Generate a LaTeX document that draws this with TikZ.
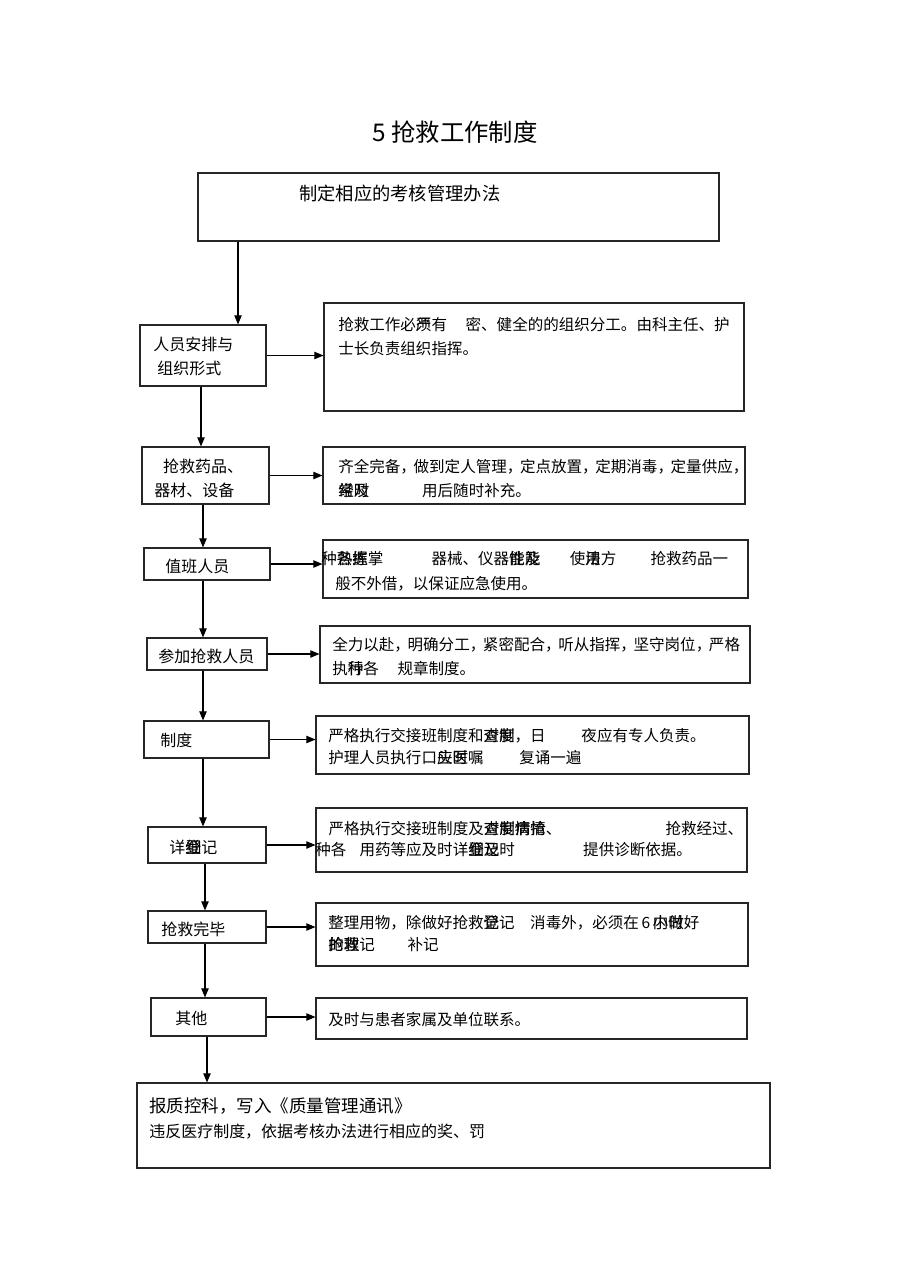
\documentclass[tikz,border=0pt]{standalone}
\usepackage{fontspec}
\setmainfont{Noto Sans CJK SC}
\usetikzlibrary{fit,arrows.meta}
\newcommand\ov[2]{\rlap{#1}#2}

\begin{document}
\begin{tikzpicture}[x=0.2308mm,y=-0.2308mm,
  box/.style={draw=black!85,line width=0.7pt,inner sep=0pt},
  txt/.style={anchor=north west,inner sep=0pt,align=left,font=\fontsize{10.2}{15.7}\selectfont},
  lab/.style={anchor=north west,inner sep=0pt,align=left,font=\fontsize{10.5}{15.7}\selectfont},
  arr/.style={-{Triangle[length=2.1mm,width=1.7mm]},line width=0.7pt}]
  \useasboundingbox (0,0) rectangle (910,1287);
  \node[font=\fontsize{16}{19}\selectfont] (title) at (455,132) {5 抢救工作制度};
  \node[box,fit={(198,173) (719,241)}] (top) {};
  \node[anchor=north west,inner sep=0pt,font=\fontsize{12}{14}\selectfont] (topt) at (299,185) {制定相应的考核管理办法};
  % left column
  \node[box,fit={(140,325) (266,386)}]  (l1) {};
  \node[box,fit={(142,447) (269,504)}]  (l2) {};
  \node[box,fit={(144,548) (270,580)}]  (l3) {};
  \node[box,fit={(147,638) (267,670)}]  (l4) {};
  \node[box,fit={(144,721) (269,758)}]  (l5) {};
  \node[box,fit={(148,827) (266,863)}]  (l6) {};
  \node[box,fit={(148,911) (266,943)}]  (l7) {};
  \node[box,fit={(151,998) (266,1036)}] (l8) {};
  \node[lab] (l1t) at (153,337) {人员安排与\\\hspace*{0.25em}组织形式};
  \node[lab] (l2t) at (154,459) {\hspace*{0.55em}抢救药品、\\器材、设备};
  \node[lab] (l3t) at (165,559) {值班人员};
  \node[lab] (l4t) at (158,649) {参加抢救人员};
  \node[lab] (l5t) at (160,733) {制度};
  \node[lab] (l6t) at (169,840) {详\ov{细}{登}记};
  \node[lab] (l7t) at (161,922) {抢救完毕};
  \node[lab] (l8t) at (175,1011) {其他};
  % right column
  \node[box,fit={(324,303) (744,411)}]  (r1) {};
  \node[box,fit={(323,447) (745,504)}]  (r2) {};
  \node[box,fit={(323,540) (748,598)}]  (r3) {};
  \node[box,fit={(320,626) (750,683)}]  (r4) {};
  \node[box,fit={(316,716) (749,774)}]  (r5) {};
  \node[box,fit={(316,808) (747,872)}]  (r6) {};
  \node[box,fit={(316,903) (748,966)}]  (r7) {};
  \node[box,fit={(316,998) (747,1039)}] (r8) {};
  \node[txt] (r1t) at (338,317) {抢救工作必\ov{须}{严}有\hspace{1.2em}密、健全的的组织分工。由科主任、护\\士长负责组织指挥。};
  \node[txt] (r2t) at (338,459) {齐全完备，\hspace{-0.15em}做到定人管理，\hspace{-0.15em}定点放置，\hspace{-0.15em}定期消毒，\hspace{-0.15em}定量供应，\\\ov{经}{常}\ov{及}{时}\hspace{3.4em}用后随时补充。};
  \node[txt] (r3t) at (321,551) {种\ov{熟}{各}\ov{练}{握}掌\hspace{3.1em}器械、仪器\ov{性}{能}\ov{能}{及}\hspace{1.9em}使\ov{用}{法}方\hspace{2.2em}抢救药品一\\[1pt]\hspace*{0.9em}般不外借，以保证应急使用。};
  \node[txt] (r4t) at (332,637) {全力以赴，\hspace{-0.15em}明确分工，\hspace{-0.15em}紧密配合，\hspace{-0.15em}听从指挥，\hspace{-0.15em}坚守岗位，\hspace{-0.15em}严格\\执\ov{行}{种}各\hspace{1.2em}规章制度。};
  \node[txt] (r5t) at (328,728) {严格执行交接班制度和\ov{查}{对}\ov{制}{度}，日\hspace{2.3em}夜应有专人负责。\\[-1pt]护理人员执行口\ov{头}{应}\ov{医}{时}嘱\hspace{2.3em}复诵一遍};
  \node[txt] (r6t) at (315,821) {\hspace*{0.85em}严格执行交接班制度及\ov{查}{对}\ov{制}{度}\ov{病}{情}\ov{抢}{情}、\hspace{6.7em}抢救经过、\\[-2pt]种各\hspace{0.85em}用药等应及时详\ov{细}{登}\ov{记}{及}时\hspace{4.4em}提供诊断依据。};
  \node[txt] (r7t) at (328,915) {整理用物，除做好抢救\ov{登}{记}记\hspace{1em}消毒外，必须在\,6\,\ov{小}{内}\ov{时}{做}好\\[-1pt]\ov{抢}{的}\ov{救}{理}记\hspace{2.1em}补记};
  \node[txt] (r8t) at (328,1012) {及时与患者家属及单位联系。};
  % bottom
  \node[box,fit={(137,1083) (770,1168)}] (bot) {};
  \node[txt,font=\fontsize{10.5}{16.4}\selectfont] (bott) at (149,1097) {{\fontsize{11.5}{16.4}\selectfont 报质控科，写入《质量管理通讯》}\\违反医疗制度，依据考核办法进行相应的奖、罚};
  % arrows
  \foreach \a/\b/\x in {top/l1/238,l1/l2/201,l2/l3/203,l3/l4/203,l4/l5/203,l5/l6/203,l6/l7/205,l7/l8/205,l8/bot/207}
    \draw[arr] (\a.south -| \x,0) -- (\b.north -| \x,0);
  \foreach \i in {1,...,8}
    \draw[arr] (l\i.east) -- (l\i.east -| r\i.west);
\end{tikzpicture}
\end{document}
